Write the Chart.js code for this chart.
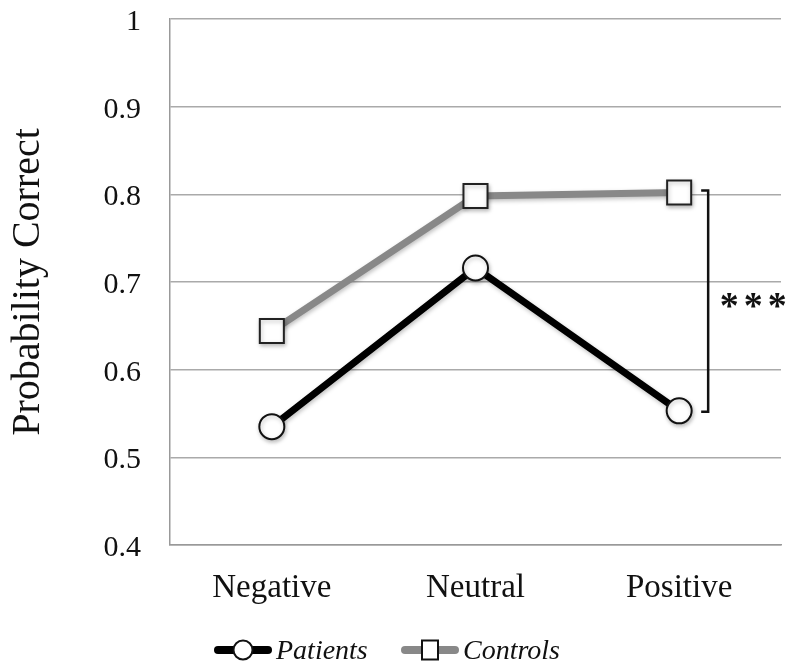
<!DOCTYPE html>
<html>
<head>
<meta charset="utf-8">
<script src="https://cdn.jsdelivr.net/npm/chart.js@4.4.1/dist/chart.umd.min.js"></script>
<style>
  html, body { margin: 0; padding: 0; background: #fff; }
  #wrap { width: 800px; height: 672px; position: relative; }
</style>
</head>
<body>
<div id="wrap"><canvas id="c" width="800" height="672"></canvas></div>
<script>
const categories = ["Negative", "Neutral", "Positive"];
const patients = [0.535, 0.716, 0.553];
const controls = [0.644, 0.798, 0.802];
const seriesNames = ["Patients", "Controls"];
const significance = "***";

const SERIF = '"Liberation Serif", "Times New Roman", serif';

const overlay = {
  id: 'overlay',
  beforeDatasetDraw(chart) {
    const ctx = chart.ctx;
    ctx.save();
    ctx.shadowColor = 'rgba(0,0,0,0.25)';
    ctx.shadowBlur = 4;
    ctx.shadowOffsetX = 1;
    ctx.shadowOffsetY = 2;
  },
  afterDatasetDraw(chart) {
    chart.ctx.restore();
  },
  afterDraw(chart) {
    const ctx = chart.ctx;
    const x = chart.scales.x, y = chart.scales.y;
    // significance bracket at last category
    const last = categories.length - 1;
    const px = x.getPixelForValue(last);
    const bx = px + 29;
    const yTop = y.getPixelForValue(controls[last]) - 2;
    const yBot = y.getPixelForValue(patients[last]) + 1;
    ctx.save();
    ctx.strokeStyle = '#111';
    ctx.lineWidth = 2.5;
    ctx.beginPath();
    ctx.moveTo(bx - 7, yTop);
    ctx.lineTo(bx, yTop);
    ctx.lineTo(bx, yBot);
    ctx.lineTo(bx - 7, yBot);
    ctx.stroke();
    ctx.fillStyle = '#111';
    ctx.font = 'bold 38px ' + SERIF;
    ctx.textBaseline = 'middle';
    ctx.textAlign = 'center';
    const sy = (yTop + yBot) / 2 + 7;
    ctx.fillText(significance[0], bx + 21, sy);
    ctx.fillText(significance[1], bx + 45, sy);
    ctx.fillText(significance[2], bx + 69, sy);
    ctx.restore();

    // legend
    const ly = 650;
    const items = [
      {name: seriesNames[0], color: '#000', style: 'circle', x0: 214},
      {name: seriesNames[1], color: '#888', style: 'rect', x0: 401}
    ];
    ctx.save();
    items.forEach(it => {
      ctx.strokeStyle = it.color;
      ctx.lineWidth = 8;
      ctx.lineCap = 'round';
      ctx.beginPath();
      ctx.moveTo(it.x0 + 4, ly);
      ctx.lineTo(it.x0 + 54, ly);
      ctx.stroke();
      ctx.fillStyle = '#fff';
      ctx.strokeStyle = '#111';
      ctx.lineWidth = 2;
      const cx = it.x0 + 29;
      ctx.beginPath();
      if (it.style === 'circle') {
        ctx.arc(cx, ly, 9.5, 0, Math.PI * 2);
      } else {
        ctx.rect(cx - 8, ly - 9.5, 16, 19);
      }
      ctx.fill();
      ctx.stroke();
      ctx.fillStyle = '#111';
      ctx.font = 'italic 28px ' + SERIF;
      ctx.textBaseline = 'middle';
      ctx.textAlign = 'left';
      ctx.fillText(it.name, it.x0 + 62, ly + 2);
    });
    ctx.restore();
  }
};

new Chart(document.getElementById('c'), {
  type: 'line',
  data: {
    labels: categories,
    datasets: [
      {
        label: seriesNames[0],
        data: patients,
        borderColor: '#000',
        borderWidth: 7,
        pointStyle: 'circle',
        pointRadius: 12.5,
        pointBorderWidth: 2,
        pointBorderColor: '#111',
        pointBackgroundColor: '#fff',
        tension: 0
      },
      {
        label: seriesNames[1],
        data: controls,
        borderColor: '#888',
        borderWidth: 7,
        pointStyle: 'rect',
        pointRadius: 17,
        pointBorderWidth: 2,
        pointBorderColor: '#222',
        pointBackgroundColor: '#fff',
        tension: 0
      }
    ]
  },
  options: {
    responsive: false,
    animation: false,
    devicePixelRatio: 1,
    layout: { padding: { top: 18, right: 16, left: 0, bottom: 0 } },
    plugins: {
      legend: { display: false },
      tooltip: { enabled: false }
    },
    scales: {
      x: {
        offset: true,
        grid: { display: false, drawTicks: false },
        border: { color: '#999', width: 1.5 },
        ticks: { color: '#111', font: { family: SERIF, size: 33 }, padding: 24 },
        afterFit(s) { s.height = 127; s.paddingLeft = 0; s.paddingRight = 0; }
      },
      y: {
        min: 0.4,
        max: 1,
        grid: { color: '#aaa', lineWidth: 1.5, drawTicks: false },
        border: { color: '#999', width: 1.5 },
        ticks: {
          stepSize: 0.1, color: '#111', font: { family: SERIF, size: 30 }, padding: 29, labelOffset: 3,
          callback: v => String(Math.round(v * 10) / 10)
        },
        title: { display: true, text: 'Probability Correct', color: '#111', font: { family: SERIF, size: 40 }, padding: { top: 4, bottom: 0 } },
        afterFit(s) { s.width = 170; s.paddingTop = 0; s.paddingBottom = 0; }
      }
    }
  },
  plugins: [overlay]
});
</script>
</body>
</html>
